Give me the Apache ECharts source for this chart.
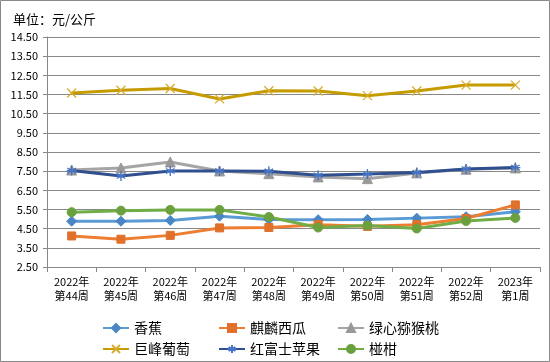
<!DOCTYPE html>
<html><head><meta charset="utf-8">
<script src="https://cdn.jsdelivr.net/npm/echarts@6/dist/echarts.min.js"></script>
<style>html,body{margin:0;padding:0;background:#fff}#c{width:550px;height:362px}</style>
</head><body><div id="c"></div>
<script>
const categories = ['2022年\n第44周','2022年\n第45周','2022年\n第46周','2022年\n第47周','2022年\n第48周','2022年\n第49周','2022年\n第50周','2022年\n第51周','2022年\n第52周','2023年\n第1周'];
const yTicks = [2.5,3.5,4.5,5.5,6.5,7.5,8.5,9.5,10.5,11.5,12.5,13.5,14.5];
const banana = [4.89,4.89,4.93,5.15,4.98,4.97,4.98,5.05,5.12,5.38];
const watermelon = [4.12,3.95,4.15,4.54,4.56,4.71,4.62,4.71,5.03,5.74];
const kiwi = [7.56,7.67,7.98,7.51,7.37,7.20,7.11,7.41,7.60,7.67];
const grape = [11.58,11.72,11.81,11.27,11.70,11.68,11.44,11.68,11.99,11.99];
const apple = [7.53,7.25,7.51,7.51,7.49,7.29,7.35,7.43,7.61,7.69];
const ponkan = [5.36,5.44,5.48,5.48,5.11,4.56,4.66,4.51,4.90,5.06];
const names = ['香蕉','麒麟西瓜','绿心猕猴桃','巨峰葡萄','红富士苹果','椪柑'];

const FONT = '"Noto Sans CJK SC", sans-serif';
const xSym = 'path://M0,0L10,10M10,0L0,10';
const starSym = 'path://M5,0L5,10M0.7,2.5L9.3,7.5M9.3,2.5L0.7,7.5M0,5L10,5';

const specs = [
  {data: banana, color:'#5B9BD5', mfill:'#4A86C4', symbol:'diamond', size:10},
  {data: watermelon, color:'#ED7D31', mfill:'#E0702A', symbol:'rect', size:8},
  {data: kiwi, color:'#A5A5A5', mfill:'#999999', symbol:'triangle', size:10},
  {data: grape, color:'#C59B00', mfill:'#D9AD2F', symbol:xSym, size:9, stroke:true},
  {data: apple, color:'#2F4F8F', mfill:'#4472C4', symbol:starSym, size:10, stroke:true},
  {data: ponkan, color:'#70AD47', mfill:'#6AA13E', symbol:'circle', size:9}
];

const series = specs.map((s,i)=>({
  name: names[i], type:'line', data: s.data,
  symbol: s.symbol, symbolSize: s.size,
  lineStyle:{color:s.color, width:3},
  itemStyle: s.stroke ? {color:'rgba(0,0,0,0)', borderColor:s.mfill, borderWidth:1.3}
                      : {color:s.mfill, borderColor:s.mfill, borderWidth:1},
  emphasis:{disabled:true}, animation:false
}));

const legendPos = [[97,316],[213,316],[332,316],[97,337],[213,337],[332,337]];
const legends = names.map((n,i)=>({
  data:[n], left:legendPos[i][0], top:legendPos[i][1], itemWidth:26, itemHeight:10,
  textStyle:{fontFamily:FONT, fontSize:14, color:'#000'}, selectedMode:false
}));

const chart = echarts.init(document.getElementById('c'), null, {renderer:'canvas'});
chart.setOption({
  animation:false,
  title:{text:'单位：元/公斤', left:8, top:8, textStyle:{fontFamily:FONT, fontSize:13, fontWeight:'normal', color:'#000'}},
  graphic:[{type:'rect', shape:{x:0.5,y:0.5,width:549,height:361}, style:{fill:'none', stroke:'#888', lineWidth:1}, silent:true}],
  grid:{left:47, right:10, top:37, bottom:95, containLabel:false},
  legend: legends,
  xAxis:{type:'category', data:categories, boundaryGap:true,
    axisLine:{lineStyle:{color:'#888'}},
    axisTick:{show:true, length:5, lineStyle:{color:'#888'}},
    axisLabel:{fontFamily:FONT, fontSize:11, color:'#000', lineHeight:14, margin:8, interval:0}},
  yAxis:{type:'value', min:2.5, max:14.5,
    axisLine:{show:true, lineStyle:{color:'#888'}},
    axisTick:{show:true, length:4, lineStyle:{color:'#888'}, customValues:yTicks},
    axisLabel:{fontFamily:FONT, fontSize:11, color:'#000', margin:9, customValues:yTicks, formatter:v=>v.toFixed(2)},
    splitLine:{show:true, lineStyle:{color:'#888', width:1}}},
  series: series
});
</script></body></html>
